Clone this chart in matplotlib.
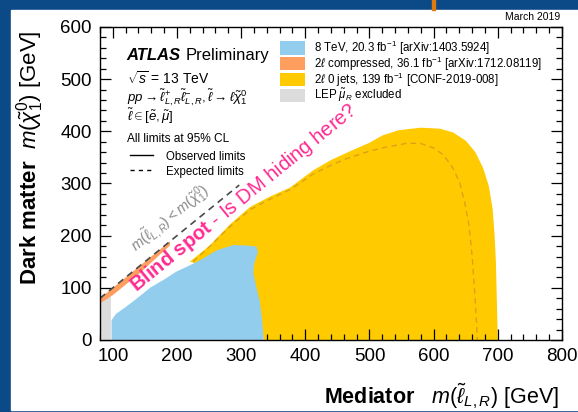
import matplotlib
matplotlib.use("Agg")
from matplotlib import pyplot as plt, patches as mpatches
from matplotlib.ticker import MultipleLocator

plt.rcParams['font.family'] = ['Liberation Sans', 'DejaVu Sans']
plt.rcParams['mathtext.fontset'] = 'custom'
plt.rcParams['mathtext.rm'] = 'Liberation Sans'
plt.rcParams['mathtext.it'] = 'Liberation Sans:italic'
plt.rcParams['mathtext.bf'] = 'Liberation Sans:bold'

# exclusion contours (GeV)
blue_x = [98, 98, 105, 121, 140, 158, 180, 199, 218, 236, 262, 288, 310, 324, 326, 320, 319, 324, 329, 332, 334, 335]
blue_y = [0, 38, 50, 64, 82, 100, 116, 131, 142, 153, 172, 182, 181, 179, 168, 145, 128, 100, 75, 45, 20, 0]

yellow_x = [220, 250, 283, 314, 345, 376, 412, 440, 470, 500, 520, 545, 580, 610, 630, 650, 665, 677, 686, 692,
            695, 697, 698, 699, 700, 335, 330, 320, 300, 250]
yellow_y = [150, 180, 222, 255, 275, 292, 325, 345, 362, 378, 392, 402, 407, 405, 398, 382, 360, 330, 295, 250,
            200, 150, 100, 50, 0, 0, 40, 100, 140, 140]

exp_x = [225, 250, 283, 314, 345, 376, 412, 440, 465, 500, 527, 558, 579, 600, 615, 630, 641, 649, 655, 660, 664, 667, 668]
exp_y = [150, 178, 218, 250, 270, 288, 318, 335, 348, 362, 370, 377, 377, 368, 355, 330, 300, 260, 220, 160, 90, 30, 0]

orange_x = [80, 100, 140, 189, 189, 80]
orange_y = [70, 86, 126, 181, 189, 80]

grey_x = [80, 97, 97, 80]
grey_y = [0, 0, 90, 80]

diag = [80, 297]

legend_labels = [r"8 TeV, 20.3 fb$^{-1}$ [arXiv:1403.5924]",
                 r"2$\ell$ compressed, 36.1 fb$^{-1}$ [arXiv:1712.08119]",
                 r"2$\ell$ 0 jets, 139 fb$^{-1}$ [CONF-2019-008]",
                 r"LEP $\tilde{\mu}_R$ excluded"]
legend_colors = ['#92cdee', '#ff9e5e', '#ffcb00', '#dcdcdc']

fig = plt.figure(figsize=(5.78, 4.12), dpi=100, facecolor='#0b4a86')
fig.patches.append(mpatches.Rectangle((0.019, 0.005), 0.981, 0.971, transform=fig.transFigure,
                                      color='white', zorder=-2))
fig.patches.append(mpatches.Rectangle((0.748, 0.976), 0.004, 0.024, transform=fig.transFigure,
                                      color='#e07a10', zorder=-2))

ax = fig.add_axes([0.173, 0.1748, 0.7993, 0.7597])
ax.set_zorder(1)
ax.set_xlim(80, 800)
ax.set_ylim(0, 600)

ax.fill(yellow_x, yellow_y, color=legend_colors[2], lw=0, zorder=1)
ax.plot(exp_x, exp_y, color='#d9a21a', lw=1, ls=(0, (4, 3)), zorder=2)
ax.fill(grey_x, grey_y, color=legend_colors[3], lw=0, zorder=2)
ax.fill(orange_x, orange_y, color=legend_colors[1], lw=0, zorder=3)
ax.fill(blue_x, blue_y, color=legend_colors[0], lw=0, zorder=4)
ax.plot(diag, diag, color='#4a4a4a', lw=1.2, ls=(0, (4, 3)), zorder=5)

ax.text(136, 168, r"$m(\tilde{\ell}_{L,R}) < m(\tilde{\chi}_1^0)$", color='#888888', fontsize=10.5,
        rotation=45, transform_rotates_text=True, rotation_mode='anchor', ha='left', va='baseline', zorder=6)
ax.text(137, 91, r"$\mathbf{Blind\ spot}$ - Is DM hiding here?", color='#ff2a90', fontsize=14.5,
        rotation=45, transform_rotates_text=True, rotation_mode='anchor', ha='left', va='baseline', zorder=6)

# ATLAS labels
tx = 0.058
ax.text(tx, 0.895, "ATLAS", transform=ax.transAxes, fontsize=12, fontweight='bold', fontstyle='italic')
ax.text(tx + 0.127, 0.895, "Preliminary", transform=ax.transAxes, fontsize=12)
ax.text(tx, 0.818, r"$\sqrt{s}$ = 13 TeV", transform=ax.transAxes, fontsize=10)
ax.text(tx, 0.764, r"$pp \rightarrow \tilde{\ell}^{+}_{L,R}\tilde{\ell}^{-}_{L,R}, \tilde{\ell} \rightarrow \ell\tilde{\chi}_1^0$",
        transform=ax.transAxes, fontsize=9.5)
ax.text(tx, 0.700, r"$\tilde{\ell} \in [\tilde{e}, \tilde{\mu}]$", transform=ax.transAxes, fontsize=9.5)
ax.text(tx, 0.633, "All limits at 95% CL", transform=ax.transAxes, fontsize=8.6)
ax.plot([0.065, 0.115], [0.592, 0.592], transform=ax.transAxes, color='k', lw=1)
ax.plot([0.065, 0.115], [0.544, 0.544], transform=ax.transAxes, color='k', lw=1, ls=(0, (3, 3)))
ax.text(0.143, 0.576, "Observed limits", transform=ax.transAxes, fontsize=8.3)
ax.text(0.143, 0.528, "Expected limits", transform=ax.transAxes, fontsize=8.3)

for i, (lab, c) in enumerate(zip(legend_labels, legend_colors)):
    yc = 0.933 - i * 0.051
    ax.add_patch(mpatches.Rectangle((0.390, yc - 0.021), 0.054, 0.042, transform=ax.transAxes,
                                    color=c, lw=0, zorder=6))
    ax.text(0.463, yc, lab, transform=ax.transAxes, fontsize=8.3, va='center', zorder=6)

ax.xaxis.set_major_locator(MultipleLocator(100))
ax.xaxis.set_minor_locator(MultipleLocator(20))
ax.yaxis.set_major_locator(MultipleLocator(100))
ax.yaxis.set_minor_locator(MultipleLocator(20))
ax.tick_params(which='both', direction='in', top=True, right=True, labelsize=13.5, width=0.9)
ax.tick_params(which='major', length=8, pad=6)
ax.tick_params(which='minor', length=4)
for s in ax.spines.values():
    s.set_linewidth(1)
    s.set_zorder(10)

fig.text(0.052, 0.617, r"$\mathbf{Dark\ matter}$  $m(\tilde{\chi}_1^0)$ [GeV]", rotation=90,
         fontsize=16, ha='center', va='center')
fig.text(0.967, 0.02, r"$\mathbf{Mediator}$   $m(\tilde{\ell}_{L,R})$ [GeV]", fontsize=15.5,
         ha='right', va='baseline')
fig.text(0.969, 0.952, "March 2019", fontsize=7.5, ha='right', va='baseline')

fig.savefig("out.png", dpi=100, facecolor=fig.get_facecolor())
